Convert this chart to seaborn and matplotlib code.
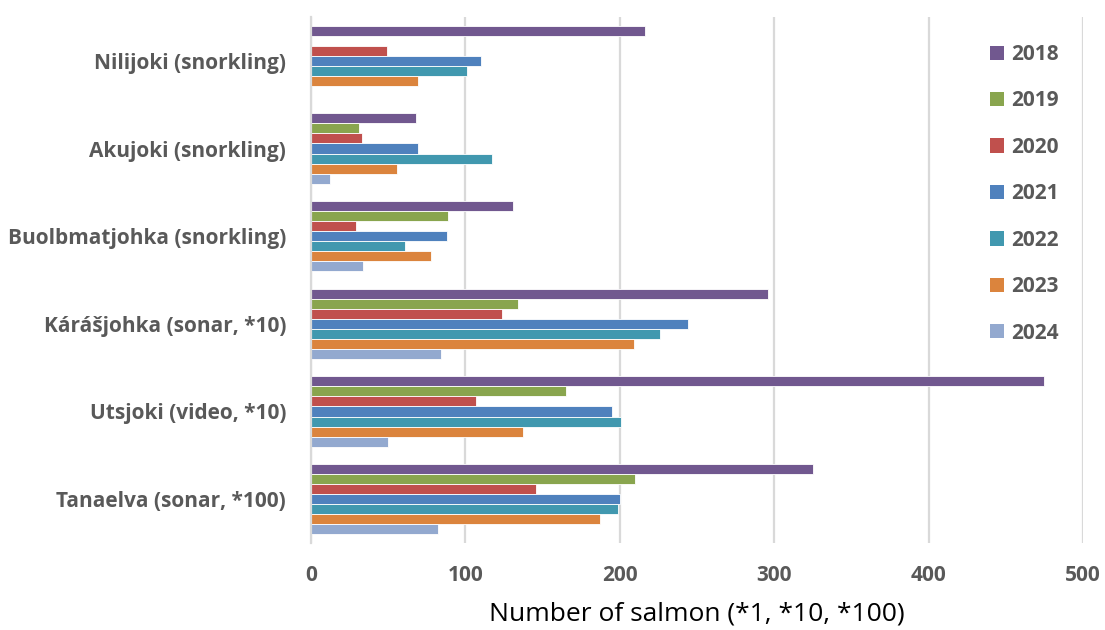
import numpy as np
import pandas as pd
import matplotlib
matplotlib.use("Agg")
import matplotlib.pyplot as plt
from matplotlib.patches import Patch
import seaborn as sns

# Salmon counts per river and year (Kárášjohka/Utsjoki in tens, Tanaelva in hundreds)
sites = [
    "Nilijoki (snorkling)",
    "Akujoki (snorkling)",
    "Buolbmatjohka (snorkling)",
    "Kárášjohka (sonar, *10)",
    "Utsjoki (video, *10)",
    "Tanaelva (sonar, *100)",
]
years = ["2018", "2019", "2020", "2021", "2022", "2023", "2024"]

counts_2018 = [216, 68, 131, 296, 475, 325]
counts_2019 = [np.nan, 31, 89, 134, 165, 210]
counts_2020 = [49, 33, 29, 124, 107, 146]
counts_2021 = [110, 69, 88, 244, 195, 200]
counts_2022 = [101, 117, 61, 226, 201, 199]
counts_2023 = [69, 56, 78, 209, 137, 187]
counts_2024 = [np.nan, 12, 34, 84, 50, 82]

year_colors = ["#71588F", "#89A54E", "#C0504D", "#4F81BD", "#4198AF", "#DB843D", "#93A9CF"]

series = [counts_2018, counts_2019, counts_2020, counts_2021,
          counts_2022, counts_2023, counts_2024]
rows = []
for yr, vals in zip(years, series):
    for site, v in zip(sites, vals):
        rows.append({"site": site, "year": yr, "count": v})
df = pd.DataFrame(rows)

sns.set_style("white")
plt.rcParams["font.family"] = ["Open Sans", "DejaVu Sans"]

label_grey = "#595959"
grid_grey = "#D9D9D9"
label_size = 15

fig = plt.figure(figsize=(11.05, 6.30), dpi=100)
ax = fig.add_axes([311 / 1105, 1 - 543 / 630, (1083 - 311) / 1105, (543 - 17) / 630])

sns.barplot(
    data=df, y="site", x="count", hue="year",
    order=sites, hue_order=years, palette=year_colors,
    orient="h", width=0.8, errorbar=None, legend=False,
    edgecolor="white", linewidth=0.6, saturation=1, ax=ax,
)

ax.set_xlim(0, 500)
ax.set_ylim(5.5, -0.5)
ax.set_xticks([0, 100, 200, 300, 400, 500])

ax.set_axisbelow(True)
ax.xaxis.grid(True, color=grid_grey, linewidth=1.6)
ax.yaxis.grid(False)
for side in ["top", "right", "bottom"]:
    ax.spines[side].set_visible(False)
ax.spines["left"].set_color(grid_grey)
ax.spines["left"].set_linewidth(1.6)

ax.tick_params(axis="both", length=0)
ax.tick_params(axis="x", pad=16, labelsize=label_size, labelcolor=label_grey)
ax.tick_params(axis="y", pad=18, labelsize=label_size, labelcolor=label_grey)
for lbl in ax.get_xticklabels() + ax.get_yticklabels():
    lbl.set_fontweight("bold")

ax.set_ylabel("")
ax.set_xlabel("Number of salmon (*1, *10, *100)", fontsize=19,
              color="#000000", labelpad=11)

handles = [Patch(facecolor=c, edgecolor="none", label=y)
           for c, y in zip(year_colors, years)]
leg = fig.legend(
    handles=handles, loc="upper left",
    bbox_to_anchor=(990 / 1105, 1 - 44 / 630),
    frameon=False, borderaxespad=0, borderpad=0,
    handlelength=0.68, handleheight=0.68, handletextpad=0.33,
    labelspacing=1.22, prop={"size": label_size, "weight": "bold"},
)
for t in leg.get_texts():
    t.set_color(label_grey)

fig.savefig("out.png", dpi=100)
